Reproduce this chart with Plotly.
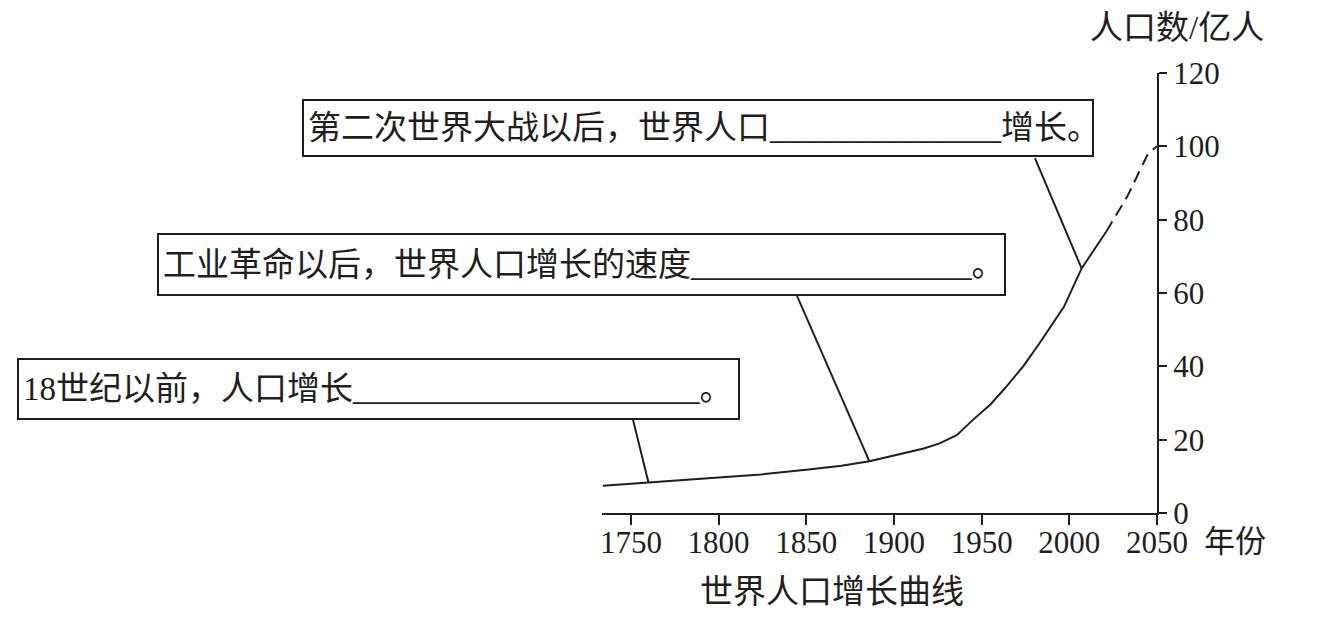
import plotly.graph_objects as go

# ---------------- data ----------------
years_solid = [1734, 1760, 1800, 1822, 1850, 1870, 1886, 1900, 1917, 1926, 1936,
               1945, 1955, 1964, 1974, 1983, 1997, 2007, 2021]
pop_solid = [7.4, 8.3, 9.6, 10.4, 11.8, 12.9, 14.1, 15.6, 17.6, 19.0, 21.3,
             25.4, 29.6, 34.4, 40.2, 46.3, 56.3, 66.7, 76.7]
years_dash = [2021, 2033, 2045, 2050]
pop_dash = [76.7, 86.3, 98.1, 100]

x_ticks = [1750, 1800, 1850, 1900, 1950, 2000, 2050]
y_ticks = [0, 20, 40, 60, 80, 100, 120]

box_texts = [
    "第二次世界大战以后，世界人口" + "_" * 14 + "增长。",
    "工业革命以后，世界人口增长的速度" + "_" * 17 + "。",
    "18世纪以前，人口增长" + "_" * 21 + "。",
]
# leader lines: from box edge (year, value) to point on the curve (year, value)
leader_from_year = [1980.4, 1844.7, 1751.2]
leader_from_pop = [96.8, 59.2, 25.4]
leader_to_year = [2007, 1886, 1760]
leader_to_pop = [66.7, 14.1, 8.3]

x_title = "年份"
y_title = "人口数/亿人"
chart_title = "世界人口增长曲线"

# ---------------- layout helpers ----------------
OFF = 8  # page body margin
W_FIG, H_FIG = 1323 - 2 * OFF, 620 - 2 * OFF
L, T, PW, PH = 602 - OFF, 73 - OFF, 555, 440
FONT = "Liberation Serif, Noto Sans CJK SC, serif"
INK = "#1e1e1e"


def fx(px):
    return (px - OFF - L) / PW


def fy(py):
    return (T + PH - (py - OFF)) / PH


# box rectangles in window pixels: left, top, right, bottom
boxes_px = [(302, 99, 1094, 157), (157, 233, 1006, 296), (17, 358, 740, 420)]

fig = go.Figure()
fig.add_trace(go.Scatter(x=years_solid, y=pop_solid, mode="lines",
                         line=dict(color=INK, width=2), hoverinfo="skip",
                         showlegend=False))
fig.add_trace(go.Scatter(x=years_dash, y=pop_dash, mode="lines",
                         line=dict(color=INK, width=2, dash="12px,7px"),
                         hoverinfo="skip", showlegend=False))

for i in range(3):
    fig.add_shape(type="line", xref="x", yref="y",
                  x0=leader_from_year[i], y0=leader_from_pop[i],
                  x1=leader_to_year[i], y1=leader_to_pop[i],
                  line=dict(color=INK, width=2))

annotations = []
bw, pad = 2, 4
for txt, (l, t, r, b) in zip(box_texts, boxes_px):
    annotations.append(dict(
        text=txt, xref="paper", yref="paper", x=fx(l), y=fy(t),
        xanchor="left", yanchor="top", showarrow=False, align="left",
        width=(r - l) - 2 * (bw + pad), height=(b - t) - 2 * (bw + pad),
        bordercolor=INK, borderwidth=bw, borderpad=pad, bgcolor="white",
        font=dict(family=FONT, size=33, color=INK)))

annotations.append(dict(text=y_title, xref="paper", yref="paper",
                        x=fx(1177), y=fy(28), xanchor="center", yanchor="middle",
                        showarrow=False, font=dict(family=FONT, size=33, color=INK)))
annotations.append(dict(text=x_title, xref="paper", yref="paper",
                        x=fx(1202), y=fy(541), xanchor="left", yanchor="middle",
                        showarrow=False, font=dict(family=FONT, size=31, color=INK)))
annotations.append(dict(text=chart_title, xref="paper", yref="paper",
                        x=fx(832), y=fy(592), xanchor="center", yanchor="middle",
                        showarrow=False, font=dict(family=FONT, size=33, color=INK)))

fig.update_layout(
    width=W_FIG, height=H_FIG,
    margin=dict(l=L, r=W_FIG - L - PW, t=T, b=H_FIG - T - PH, autoexpand=False),
    paper_bgcolor="white", plot_bgcolor="white",
    annotations=annotations,
    xaxis=dict(range=[1733.5, 2050], tickvals=x_ticks, ticktext=[str(v) for v in x_ticks],
               showline=True, linecolor=INK, linewidth=2, ticks="outside",
               ticklen=10, tickwidth=2, tickcolor=INK, showgrid=False, zeroline=False,
               ticklabelstandoff=-9,
               tickfont=dict(family=FONT, size=31, color=INK)),
    yaxis=dict(range=[0, 120], tickvals=y_ticks, side="right",
               showline=True, linecolor=INK, linewidth=2, ticks="outside",
               ticklen=8, tickwidth=2, tickcolor=INK, showgrid=False, zeroline=False,
               tickfont=dict(family=FONT, size=31, color=INK)),
)

fig.write_html("out.html")
